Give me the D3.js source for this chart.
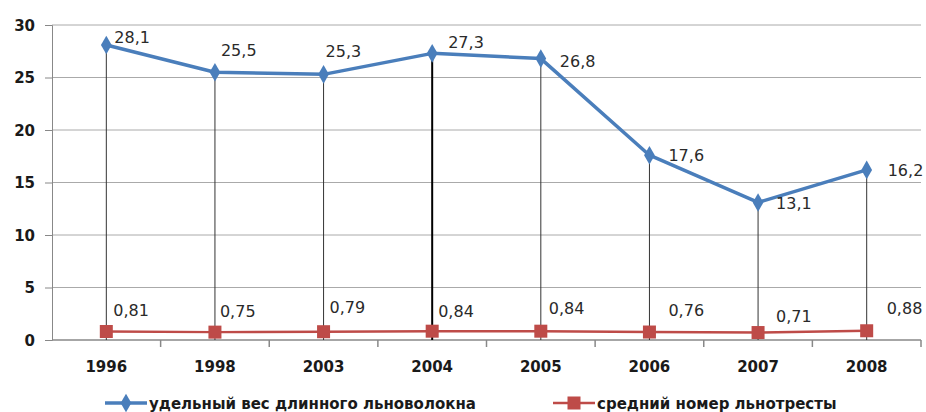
<!DOCTYPE html>
<html>
<head>
<meta charset="utf-8">
<script src="https://d3js.org/d3.v7.min.js"></script>
<style>
    body { margin: 0; background: #fff; }
    .tick-label { font-family: "DejaVu Sans", sans-serif; font-weight: bold; font-size: 15px; fill: #1a1a1a; }
    .data-label { font-family: "DejaVu Sans", sans-serif; font-size: 16px; fill: #2a2a2a; }
    .legend-label { font-family: "DejaVu Sans", sans-serif; font-weight: bold; font-size: 15px; fill: #1a1a1a; }
</style>
</head>
<body>
<div id="chart"></div>
<script>
const years = ["1996", "1998", "2003", "2004", "2005", "2006", "2007", "2008"];
const fibreShare = [28.1, 25.5, 25.3, 27.3, 26.8, 17.6, 13.1, 16.2];
const strawNumber = [0.81, 0.75, 0.79, 0.84, 0.84, 0.76, 0.71, 0.88];
const yTicks = [0, 5, 10, 15, 20, 25, 30];
const seriesNames = ["удельный вес длинного льноволокна", "средний номер льнотресты"];

// label offsets relative to the point (dx, dy of baseline)
const blueOffsets = [[8, -2], [6, -16], [2, -17], [16, -5], [19, 8], [19, 6], [18, 7], [21, 6]];
const redOffsets = [[7, -15], [5, -15], [6, -19], [6, -14], [8, -17], [19, -16], [18, -11], [20, -17]];

const W = 926, H = 412;
const margin = { top: 25, right: 5, bottom: 72, left: 52 };

const svg = d3.select("#chart").append("svg")
    .attr("width", W).attr("height", H);
svg.append("rect").attr("width", W).attr("height", H).attr("fill", "#fff");

const x = d3.scaleBand().domain(years).range([margin.left, W - margin.right]);
const y = d3.scaleLinear().domain([0, 30]).range([H - margin.bottom, margin.top]);
const cx = d => x(d) + x.bandwidth() / 2;

// horizontal gridlines
svg.selectAll(".grid").data(yTicks.filter(t => t > 0)).enter()
    .append("line")
    .attr("x1", margin.left).attr("x2", W - margin.right)
    .attr("y1", d => y(d)).attr("y2", d => y(d))
    .attr("stroke", "#aaa").attr("stroke-width", 1);

// y axis
const yAxis = svg.append("g")
    .attr("transform", `translate(${margin.left},0)`)
    .call(d3.axisLeft(y).tickValues(yTicks).tickSize(7).tickPadding(10));
yAxis.select(".domain").attr("stroke", "#888");
yAxis.selectAll(".tick line").attr("stroke", "#888");
yAxis.selectAll(".tick text").attr("class", "tick-label").attr("dy", "0.35em");

// x axis with ticks between categories
const xAxis = svg.append("g").attr("transform", `translate(0,${y(0)})`);
xAxis.append("line")
    .attr("x1", margin.left).attr("x2", W - margin.right)
    .attr("stroke", "#888").attr("stroke-width", 1.5);
xAxis.selectAll(".xt").data(years.slice(1).concat(["end"])).enter()
    .append("line")
    .attr("x1", (d, i) => x(years[0]) + x.step() * (i + 1))
    .attr("x2", (d, i) => x(years[0]) + x.step() * (i + 1))
    .attr("y1", 0).attr("y2", 7)
    .attr("stroke", "#888").attr("stroke-width", 1.5);
xAxis.selectAll(".xl").data(years).enter()
    .append("text")
    .attr("class", "tick-label")
    .attr("x", d => cx(d)).attr("y", 32)
    .attr("text-anchor", "middle")
    .text(d => d);

// drop lines
svg.selectAll(".drop").data(years).enter()
    .append("line")
    .attr("x1", d => cx(d)).attr("x2", d => cx(d))
    .attr("y1", (d, i) => y(fibreShare[i])).attr("y2", y(0))
    .attr("stroke", (d, i) => i === 3 ? "#000" : "#333")
    .attr("stroke-width", (d, i) => i === 3 ? 2 : 1);

const blue = "#4a7ebb", red = "#be4b48";

// red series
svg.append("path")
    .datum(strawNumber)
    .attr("fill", "none").attr("stroke", red).attr("stroke-width", 2.5)
    .attr("d", d3.line().x((d, i) => cx(years[i])).y(d => y(d)));
svg.selectAll(".sq").data(strawNumber).enter()
    .append("rect")
    .attr("x", (d, i) => cx(years[i]) - 6.5).attr("y", d => y(d) - 6.5)
    .attr("width", 13).attr("height", 13).attr("fill", red);

// blue series
svg.append("path")
    .datum(fibreShare)
    .attr("fill", "none").attr("stroke", blue).attr("stroke-width", 3.5)
    .attr("stroke-linejoin", "round")
    .attr("d", d3.line().x((d, i) => cx(years[i])).y(d => y(d)));
const diamond = d3.symbol().type(d3.symbolDiamond).size(100);
svg.selectAll(".dm").data(fibreShare).enter()
    .append("path")
    .attr("d", diamond)
    .attr("transform", (d, i) => `translate(${cx(years[i])},${y(d)})`)
    .attr("fill", blue);

const fmt = v => String(v).replace(".", ",");

svg.selectAll(".bl").data(fibreShare).enter()
    .append("text").attr("class", "data-label")
    .attr("x", (d, i) => cx(years[i]) + blueOffsets[i][0])
    .attr("y", (d, i) => y(d) + blueOffsets[i][1])
    .text(fmt);
svg.selectAll(".rl").data(strawNumber).enter()
    .append("text").attr("class", "data-label")
    .attr("x", (d, i) => cx(years[i]) + redOffsets[i][0])
    .attr("y", (d, i) => y(d) + redOffsets[i][1])
    .text(fmt);

// legend
const legend = [
    { name: seriesNames[0], color: blue, x: 105, shape: "diamond" },
    { name: seriesNames[1], color: red, x: 553, shape: "square" }
];
const ly = 403;
legend.forEach(l => {
    svg.append("line")
        .attr("x1", l.x).attr("x2", l.x + 42)
        .attr("y1", ly).attr("y2", ly)
        .attr("stroke", l.color).attr("stroke-width", l.shape === "diamond" ? 3.5 : 2.5);
    if (l.shape === "diamond") {
        svg.append("path").attr("d", diamond)
            .attr("transform", `translate(${l.x + 21},${ly})`).attr("fill", l.color);
    } else {
        svg.append("rect")
            .attr("x", l.x + 21 - 6.5).attr("y", ly - 6.5)
            .attr("width", 13).attr("height", 13).attr("fill", l.color);
    }
    svg.append("text").attr("class", "legend-label")
        .attr("x", l.x + 44).attr("y", ly + 6)
        .text(l.name);
});
</script>
</body>
</html>
